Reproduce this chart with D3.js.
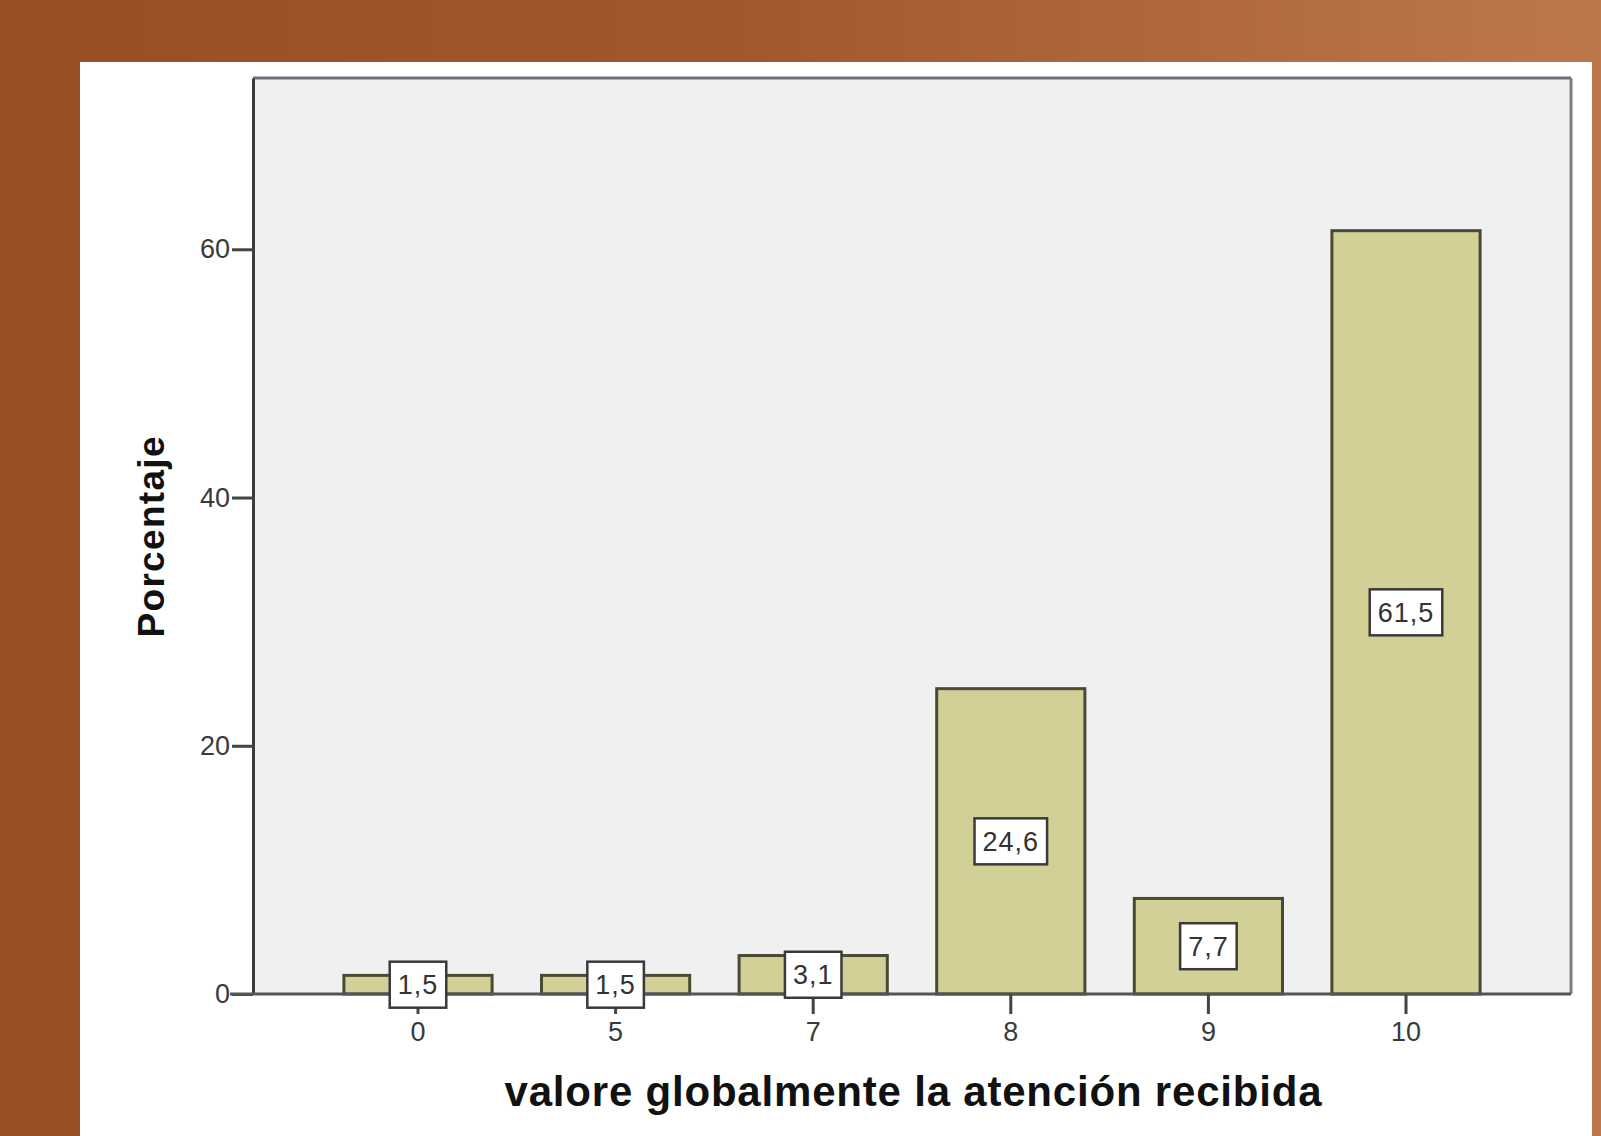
<!DOCTYPE html>
<html>
<head>
<meta charset="utf-8">
<script src="https://cdn.jsdelivr.net/npm/d3@7"></script>
<style>
  html, body { margin: 0; padding: 0; background: #ffffff; }
  svg { display: block; }
  text { font-family: "Liberation Sans", Arial, sans-serif; }
</style>
</head>
<body>
<svg id="chart" width="1601" height="1136"></svg>
<script>
// ---- data ----
const categories = ["0", "5", "7", "8", "9", "10"];
const percentages = [1.5, 1.5, 3.1, 24.6, 7.7, 61.5];
const valueLabels = ["1,5", "1,5", "3,1", "24,6", "7,7", "61,5"];
const yTicks = [0, 20, 40, 60];
const xTitle = "valore globalmente la atención recibida";
const yTitle = "Porcentaje";

// ---- layout ----
const W = 1601, H = 1136;
const panel = {x: 80, y: 62, w: 1512, h: 1074};
const plot = {left: 253, right: 1571, top: 78, bottom: 994};

const svg = d3.select("#chart");
const defs = svg.append("defs");
const grad = defs.append("linearGradient").attr("id", "bg").attr("x1", "0").attr("y1", "0").attr("x2", "1").attr("y2", "0");
grad.append("stop").attr("offset", "0%").attr("stop-color", "#994d24");
grad.append("stop").attr("offset", "45%").attr("stop-color", "#a2572b");
grad.append("stop").attr("offset", "100%").attr("stop-color", "#bd7849");

svg.append("rect").attr("width", W).attr("height", H).attr("fill", "url(#bg)");
svg.append("rect").attr("x", panel.x).attr("y", panel.y).attr("width", panel.w).attr("height", panel.h).attr("fill", "#ffffff");

// scales
const x = d3.scaleBand().domain(categories).range([plot.left, plot.right]).paddingInner(0.25).paddingOuter(0.46);
const y = d3.scaleLinear().domain([0, 73.8]).range([plot.bottom, plot.top]);

// plot background
svg.append("rect").attr("x", plot.left).attr("y", plot.top)
  .attr("width", plot.right - plot.left).attr("height", plot.bottom - plot.top)
  .attr("fill", "#f0f0f0");

// bars
const data = categories.map((c, i) => ({c, v: percentages[i], lab: valueLabels[i]}));
svg.append("g").selectAll("rect").data(data).join("rect")
  .attr("x", d => x(d.c))
  .attr("y", d => y(d.v))
  .attr("width", x.bandwidth())
  .attr("height", d => y(0) - y(d.v))
  .attr("fill", "#d2cf97")
  .attr("stroke", "#4a4a34")
  .attr("stroke-width", 3);

// frame: top and right
svg.append("line").attr("x1", plot.left).attr("x2", plot.right).attr("y1", plot.top).attr("y2", plot.top)
  .attr("stroke", "#6c7078").attr("stroke-width", 3);
svg.append("line").attr("x1", plot.right).attr("x2", plot.right).attr("y1", plot.top).attr("y2", plot.bottom)
  .attr("stroke", "#7c7e85").attr("stroke-width", 3);

// y axis
const yAxis = svg.append("g").attr("transform", `translate(${plot.left},0)`)
  .call(d3.axisLeft(y).tickValues(yTicks).tickSize(21).tickPadding(2).tickSizeOuter(0).tickFormat(d3.format("d")));
yAxis.select(".domain").attr("stroke", "#3c3c3c").attr("stroke-width", 3);
yAxis.selectAll(".tick line").attr("stroke", "#444").attr("stroke-width", 3);
yAxis.selectAll(".tick text").attr("fill", "#3a3a3a").style("font-size", "27px");

// x axis
const xAxis = svg.append("g").attr("transform", `translate(0,${plot.bottom})`)
  .call(d3.axisBottom(x).tickSize(20).tickPadding(8).tickSizeOuter(0));
xAxis.select(".domain").attr("stroke", "#555").attr("stroke-width", 3)
  .attr("d", `M${plot.left - 23},0H${plot.right}`);
xAxis.selectAll(".tick line").attr("stroke", "#444").attr("stroke-width", 3);
xAxis.selectAll(".tick text").attr("fill", "#3a3a3a").style("font-size", "27px");

// value labels
const lg = svg.append("g").selectAll("g").data(data).join("g")
  .attr("transform", d => `translate(${x(d.c) + x.bandwidth() / 2},${y(d.v / 2)})`);
lg.append("rect");
lg.append("text")
  .attr("text-anchor", "middle")
  .attr("dy", "0.36em")
  .attr("fill", "#333")
  .style("font-size", "27px")
  .style("letter-spacing", "1px")
  .text(d => d.lab);
lg.each(function() {
  const g = d3.select(this);
  const tw = g.select("text").node().getComputedTextLength();
  const bw = tw + 16, bh = 46;
  g.select("rect").attr("x", -bw / 2).attr("y", -bh / 2).attr("width", bw).attr("height", bh)
    .attr("fill", "#ffffff").attr("stroke", "#3a3a3a").attr("stroke-width", 2.5);
});

// axis titles
svg.append("text")
  .attr("x", (plot.left + plot.right) / 2 + 1).attr("y", 1106)
  .attr("text-anchor", "middle")
  .attr("fill", "#111")
  .style("font-size", "42px").style("font-weight", "bold")
  .attr("textLength", 817).attr("lengthAdjust", "spacing")
  .text(xTitle);

svg.append("text")
  .attr("transform", "translate(164,537) rotate(-90)")
  .attr("text-anchor", "middle")
  .attr("fill", "#111")
  .style("font-size", "37px").style("font-weight", "bold")
  .attr("textLength", 201).attr("lengthAdjust", "spacing")
  .text(yTitle);
</script>
</body>
</html>
